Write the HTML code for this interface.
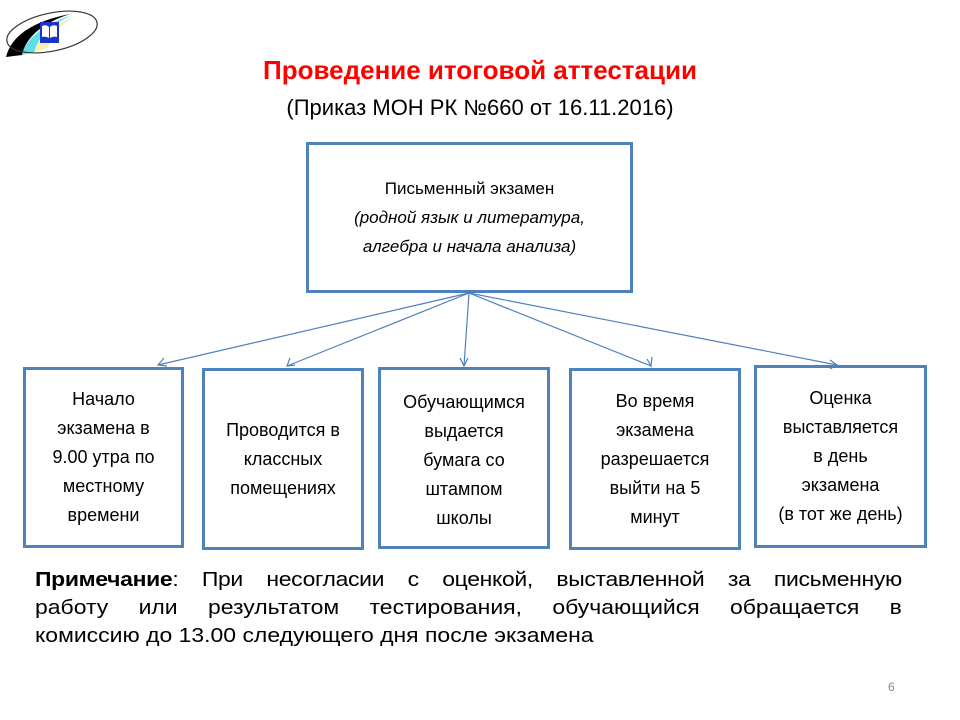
<!DOCTYPE html>
<html><head><meta charset="utf-8"><style>
body{margin:0;width:960px;height:720px;background:#fff;position:relative;overflow:hidden;font-family:"Liberation Sans",Arial,sans-serif;}
.t{position:absolute;left:0;width:960px;text-align:center;}
.box{position:absolute;border:3px solid #4f81bd;box-sizing:border-box;display:flex;align-items:center;justify-content:center;text-align:center;font-size:18px;line-height:29px;color:#000;}
.nl{text-align:justify;text-align-last:justify;white-space:nowrap;}
</style></head><body>
<svg width="110" height="70" style="position:absolute;left:0;top:0">
<path d="M6 57 Q14 25 70 14 Q28 28 22 55 Z" fill="#000"/>
<path d="M22 55 Q28 30 72 15 Q40 30 34 52 Z" fill="#5ee0e6"/>
<path d="M34 52 Q40 33 74 16 Q52 32 48 48 Z" fill="#f4f1b0"/>
<ellipse cx="52" cy="32" rx="46" ry="19" transform="rotate(-12 52 32)" fill="none" stroke="#333" stroke-width="1.2"/>
<rect x="40" y="22" width="19" height="21" fill="#1a33cc"/>
<path d="M42 26 Q46 24 49 27 L49 38 Q46 36 42 37 Z M50 27 Q53 24 57 26 L57 37 Q53 36 50 38 Z" fill="#fff"/>
</svg>
<div class="t" style="top:55px;font-size:26px;font-weight:bold;color:#ff0000;">Проведение итоговой аттестации</div>
<div class="t" style="top:95px;font-size:22px;color:#000;">(Приказ МОН РК №660 от 16.11.2016)</div>
<div class="box" style="left:306px;top:142px;width:327px;height:151px;font-size:17px;line-height:29px;"><div>Письменный экзамен<br><i>(родной язык и литература,<br>алгебра и начала анализа)</i></div></div>
<svg width="960" height="720" style="position:absolute;left:0;top:0">
<g stroke="#4f81bd" stroke-width="1.2" fill="none">
<line x1="469" y1="293" x2="158" y2="365"/>
<line x1="469" y1="293" x2="287" y2="366"/>
<line x1="469" y1="293" x2="464" y2="366"/>
<line x1="469" y1="293" x2="651" y2="366"/>
<line x1="469" y1="293" x2="837" y2="365"/>
<path d="M164 358 L158 365 L167 366"/>
<path d="M290 358 L287 366 L295 365"/>
<path d="M460 358 L464 366 L468 358"/>
<path d="M647 359 L651 366 L652 357"/>
<path d="M830 360 L837 365 L830 369"/>
</g></svg>
<div class="box" style="left:23px;top:367px;width:161px;height:181px;"><div>Начало<br>экзамена в<br>9.00 утра по<br>местному<br>времени</div></div>
<div class="box" style="left:202px;top:368px;width:162px;height:182px;"><div>Проводится в<br>классных<br>помещениях</div></div>
<div class="box" style="left:378px;top:367px;width:172px;height:182px;align-items:flex-start;padding-top:18px;"><div>Обучающимся<br>выдается<br>бумага со<br>штампом<br>школы</div></div>
<div class="box" style="left:569px;top:368px;width:172px;height:182px;"><div>Во время<br>экзамена<br>разрешается<br>выйти на 5<br>минут</div></div>
<div class="box" style="left:754px;top:365px;width:173px;height:183px;"><div>Оценка<br>выставляется<br>в день<br>экзамена<br>(в тот же день)</div></div>
<div style="position:absolute;left:35px;top:566px;width:774px;font-size:20.5px;line-height:28px;color:#000;transform:scaleX(1.12);transform-origin:0 0;">
<div class="nl" style="letter-spacing:-0.3px"><b>Примечание</b>: При несогласии с оценкой, выставленной за письменную</div>
<div class="nl">работу или результатом тестирования, обучающийся обращается в</div>
<div>комиссию до 13.00 следующего дня после экзамена</div>
</div>
<div style="position:absolute;left:888px;top:680px;font-size:12px;color:#888;">6</div>
</body></html>
